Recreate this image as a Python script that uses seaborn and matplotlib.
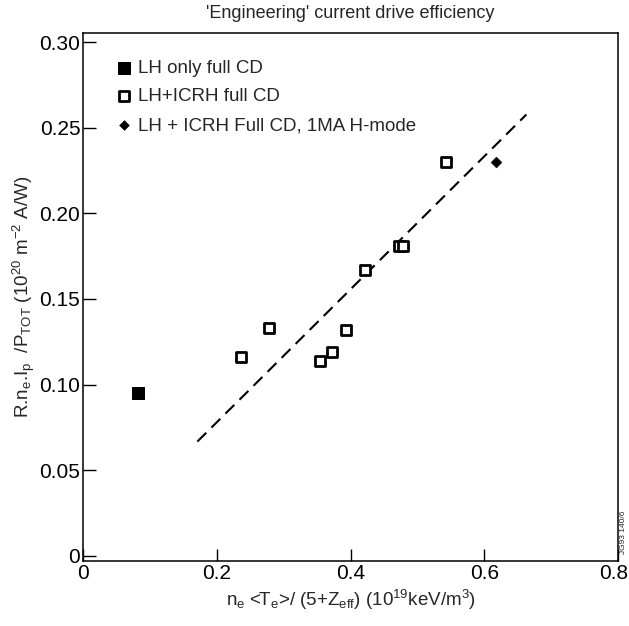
import matplotlib
matplotlib.use("Agg")
import matplotlib.pyplot as plt
import matplotlib.transforms as mtransforms
import numpy as np
import pandas as pd
import seaborn as sns

# data
lh_only_x = [0.082]
lh_only_y = [0.0953]

lh_icrh_x = [0.236, 0.278, 0.355, 0.3725, 0.394, 0.421, 0.472, 0.479, 0.543]
lh_icrh_y = [0.116, 0.133, 0.1135, 0.119, 0.1316, 0.1667, 0.181, 0.181, 0.230]

hmode_x = [0.617]
hmode_y = [0.230]

fit_x = [0.171, 0.663]
fit_y = [0.0667, 0.2577]

x_ticks = [0, 0.2, 0.4, 0.6, 0.8]
x_tick_labels = ["0", "0.2", "0.4", "0.6", "0.8"]
y_ticks = [0, 0.05, 0.10, 0.15, 0.20, 0.25, 0.30]
y_tick_labels = ["0", "0.05", "0.10", "0.15", "0.20", "0.25", "0.30"]

sns.set_theme(style="ticks")
plt.rcParams["font.family"] = ["Liberation Sans", "DejaVu Sans"]
plt.rcParams["mathtext.fontset"] = "custom"
plt.rcParams["mathtext.rm"] = "Liberation Sans"
plt.rcParams["mathtext.it"] = "Liberation Sans"

fig = plt.figure(figsize=(6.29, 6.26), dpi=100)
ax = fig.add_axes([0.132, 0.104, 0.8505, 0.843])

sns.lineplot(x=fit_x, y=fit_y, ax=ax, color="black", linewidth=1.5,
             dashes=False, linestyle=(0, (6, 3.5)), legend=False)

sns.scatterplot(x=lh_only_x, y=lh_only_y, ax=ax, marker="s", s=80,
                color="black", edgecolor="black", label="LH only full CD", zorder=3)
sns.scatterplot(x=lh_icrh_x, y=lh_icrh_y, ax=ax, marker="s", s=62,
                facecolor="white", edgecolor="black", linewidth=2.0,
                label="LH+ICRH full CD", zorder=3)
sns.scatterplot(x=hmode_x, y=hmode_y, ax=ax, marker="D", s=30,
                color="black", edgecolor="black",
                label="LH + ICRH Full CD, 1MA H-mode", zorder=3)

ax.set_xlim(0, 0.8)
ax.set_ylim(-0.003, 0.3052)
ax.set_xticks(x_ticks)
ax.set_xticklabels(x_tick_labels)
ax.set_yticks(y_ticks)
ax.set_yticklabels(y_tick_labels)
ax.tick_params(direction="in", length=9, width=1, labelsize=15, colors="black",
               top=False, right=False, pad=2)
for sp in ax.spines.values():
    sp.set_linewidth(1.1)
    sp.set_color("black")

# keep the last x label inside the figure
last = ax.get_xticklabels()[-1]
last.set_transform(last.get_transform() +
                   mtransforms.ScaledTranslation(-4 / 100, 0, fig.dpi_scale_trans))

ax.set_xlabel(r"n$_{\rm e}$ <T$_{\rm e}$>/ (5+Z$_{\rm eff}$) (10$^{19}$keV/m$^3$)",
              fontsize=13.5, labelpad=4)
ax.set_ylabel(r"R.n$_{\rm e}$.I$_{\rm p}$  /P$_{\rm TOT}$ (10$^{20}$ m$^{-2}$ A/W)",
              fontsize=13.5, labelpad=2)
fig.text(0.557, 0.978, "'Engineering' current drive efficiency",
         ha="center", va="center", fontsize=13)

ax.legend(loc="upper left", bbox_to_anchor=(0.035, 0.975), frameon=False,
          fontsize=13.5, handletextpad=0.25, labelspacing=0.62,
          borderaxespad=0.3, handlelength=1.0, markerscale=0.9)

fig.text(0.992, 0.15, "JG93 140/6", rotation=90, fontsize=6,
         ha="center", va="center")

fig.savefig("out.png", dpi=100)
plt.close(fig)
